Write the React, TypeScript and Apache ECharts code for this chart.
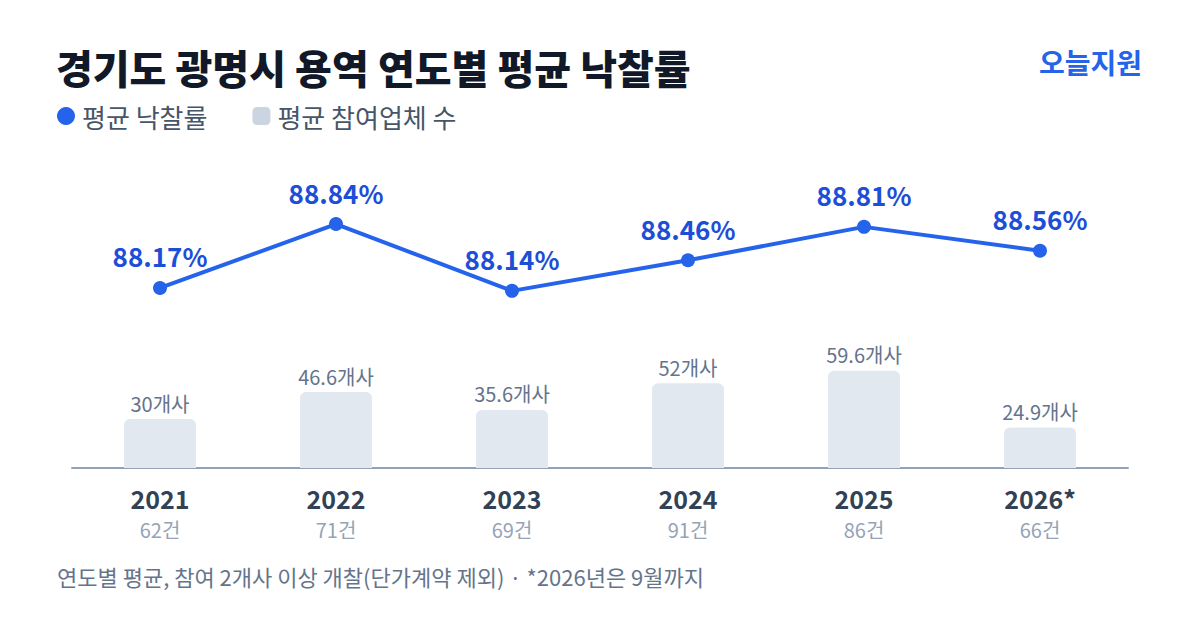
import React, { useEffect, useRef } from "react";
import * as echarts from "echarts";

const years = ["2021", "2022", "2023", "2024", "2025", "2026*"];
const caseCounts = [62, 71, 69, 91, 86, 66];
const avgRates = [88.17, 88.84, 88.14, 88.46, 88.81, 88.56];
const avgBidders = [30, 46.6, 35.6, 52, 59.6, 24.9];

const FONT = "'Noto Sans CJK KR', 'Noto Sans', sans-serif";

export default function App() {
  const ref = useRef<HTMLDivElement>(null);

  useEffect(() => {
    if (!ref.current) return;
    const chart = echarts.init(ref.current, undefined, { renderer: "svg" });
    chart.setOption({
      animation: false,
      backgroundColor: "#ffffff",
      textStyle: { fontFamily: FONT },
      title: [
        {
          text: "경기도 광명시 용역 연도별 평균 낙찰률",
          left: 51,
          top: 42,
          textStyle: { fontFamily: FONT, fontSize: 40, fontWeight: 800, color: "#111827" },
        },
        {
          text: "오늘지원",
          right: 53,
          top: 43,
          textStyle: { fontFamily: FONT, fontSize: 28, fontWeight: 700, color: "#2563eb" },
        },
        {
          text: "연도별 평균, 참여 2개사 이상 개찰(단가계약 제외) · *2026년은 9월까지",
          left: 52,
          top: 560,
          textStyle: { fontFamily: FONT, fontSize: 22, fontWeight: 400, color: "#64748b" },
        },
      ],
      legend: {
        left: 52,
        top: 98,
        itemWidth: 18,
        itemHeight: 18,
        itemGap: 45,
        textStyle: { fontFamily: FONT, fontSize: 26, color: "#475569", padding: [0, 0, 0, 2] },
        data: [
          { name: "평균 낙찰률", icon: "circle", itemStyle: { color: "#2563eb" } },
          { name: "평균 참여업체 수", icon: "roundRect", itemStyle: { color: "#cbd5e1" } },
        ],
      },
      grid: { left: 72, right: 72, top: 150, bottom: 162, containLabel: false },
      xAxis: [
        {
          type: "category",
          data: years,
          position: "bottom",
          axisTick: { show: false },
          axisLine: { lineStyle: { color: "#94a3b8", width: 2 } },
          axisLabel: {
            margin: 17,
            fontFamily: FONT,
            fontSize: 25,
            fontWeight: 700,
            color: "#334155",
          },
        },
        {
          // second row under the years: number of tenders per year
          type: "category",
          data: caseCounts.map((c) => `${c}건`),
          position: "bottom",
          offset: 0,
          axisTick: { show: false },
          axisLine: { show: false },
          axisLabel: {
            margin: 51,
            fontFamily: FONT,
            fontSize: 20,
            color: "#94a3b8",
          },
        },
      ],
      yAxis: [
        { type: "value", min: 0, max: 195, show: false },
        { type: "value", min: 86.285, max: 89.615, show: false },
      ],
      series: [
        {
          name: "평균 참여업체 수",
          type: "bar",
          xAxisIndex: 0,
          yAxisIndex: 0,
          data: avgBidders,
          barWidth: 72,
          itemStyle: { color: "#e2e8f0", borderRadius: [6, 6, 0, 0] },
          label: {
            show: true,
            position: "top",
            distance: 6,
            formatter: (p: any) => `${p.value}개사`,
            fontFamily: FONT,
            fontSize: 20,
            color: "#64748b",
          },
        },
        {
          name: "평균 낙찰률",
          type: "line",
          xAxisIndex: 0,
          yAxisIndex: 1,
          data: avgRates,
          symbol: "circle",
          symbolSize: 14,
          lineStyle: { color: "#2563eb", width: 4 },
          itemStyle: { color: "#2563eb" },
          label: {
            show: true,
            position: "top",
            distance: 12,
            formatter: (p: any) => `${p.value.toFixed(2)}%`,
            fontFamily: FONT,
            fontSize: 26,
            fontWeight: 700,
            color: "#1d4ed8",
          },
        },
      ],
    });
    return () => chart.dispose();
  }, []);

  return (
    <div
      ref={ref}
      style={{ position: "fixed", left: 0, top: 0, width: 1200, height: 630, background: "#fff" }}
    />
  );
}
